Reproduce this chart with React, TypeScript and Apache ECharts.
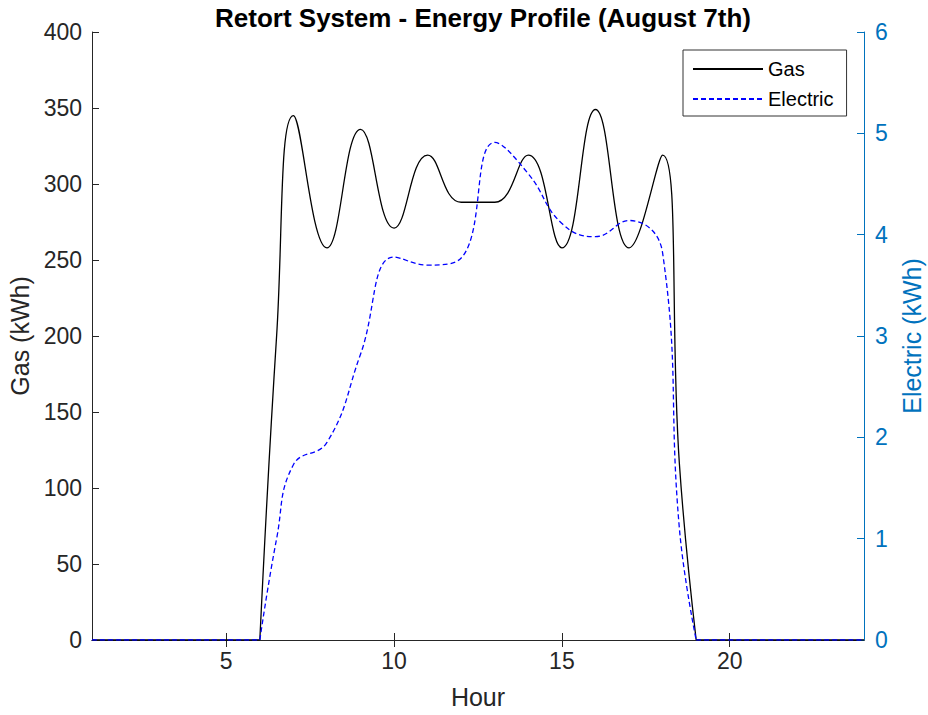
import React, { useEffect, useRef } from "react";
import * as echarts from "echarts";

const hours = [1, 2, 3, 4, 5, 6, 6.5, 7, 8, 9, 10, 11, 12, 13, 14, 15, 16, 17, 18, 18.5, 19, 20, 21, 22, 23, 24];
const gas = [0, 0, 0, 0, 0, 0, 200, 345, 258, 336, 271, 319, 288, 288, 319, 258, 349, 258, 319, 116, 0, 0, 0, 0, 0, 0];
const electric = [0, 0, 0, 0, 0, 0, 1.0, 1.73, 1.95, 2.82, 3.78, 3.7, 3.77, 4.91, 4.6, 4.11, 3.98, 4.14, 3.82, 1.1, 0, 0, 0, 0, 0, 0];
const xTicks = [5, 10, 15, 20];
const title = "Retort System - Energy Profile (August 7th)";

const FONT = "'Liberation Sans', Arial, Helvetica, sans-serif";
const DARK = "#262626";
const BLUE_AX = "#0072BD";

// Split the line where it leaves / returns to zero so each active stretch is smoothed on its own
function buildData(xs: number[], ys: number[]) {
  const out: (number | null)[][] = [];
  for (let i = 0; i < xs.length; i++) {
    const v = ys[i];
    const startsRise = v === 0 && i + 1 < ys.length && ys[i + 1] !== 0;
    const endsDrop = v === 0 && i > 0 && ys[i - 1] !== 0;
    out.push([xs[i], v]);
    if (startsRise || endsDrop) {
      out.push([xs[i], null]);
      out.push([xs[i], v]);
    }
  }
  return out;
}

export default function App() {
  const ref = useRef<HTMLDivElement>(null);
  useEffect(() => {
    if (!ref.current) return;
    const chart = echarts.init(ref.current, null, { renderer: "svg" });
    chart.setOption({
      animation: false,
      backgroundColor: "#ffffff",
      textStyle: { fontFamily: FONT },
      title: {
        text: title,
        left: 478,
        textAlign: "center",
        top: 0,
        textStyle: { fontFamily: FONT, fontSize: 26, fontWeight: "bold", color: "#000" },
      },
      grid: { left: 92, right: 64, top: 32, bottom: 75, containLabel: false, outerBoundsMode: "none" },
      legend: {
        orient: "vertical",
        left: 683,
        top: 50,
        padding: [8, 13, 6, 9],
        itemGap: 8,
        itemWidth: 70,
        itemHeight: 14,
        borderColor: "#333333",
        borderWidth: 1,
        backgroundColor: "#fff",
        itemStyle: { opacity: 0 },
        textStyle: { fontFamily: FONT, fontSize: 20, color: "#000", lineHeight: 22 },
        data: ["Gas", "Electric"],
      },
      xAxis: [
        {
          type: "value",
          min: 1,
          max: 24,
          position: "bottom",
          name: "Hour",
          nameLocation: "middle",
          nameGap: 44,
          nameTextStyle: { fontFamily: FONT, fontSize: 25, color: DARK },
          axisLine: { show: true, lineStyle: { color: DARK, width: 1 } },
          axisTick: { show: true, inside: true, length: 7, customValues: xTicks, lineStyle: { color: DARK } },
          axisLabel: { show: true, customValues: xTicks, margin: 9, fontSize: 23, color: DARK, fontFamily: FONT },
          splitLine: { show: false },
        },
        {
          type: "value",
          min: 1,
          max: 24,
          position: "top",
          axisLine: { show: true, lineStyle: { color: DARK, width: 1 } },
          axisTick: { show: true, inside: true, length: 7, customValues: xTicks, lineStyle: { color: DARK } },
          axisLabel: { show: false },
          splitLine: { show: false },
        },
      ],
      yAxis: [
        {
          type: "value",
          min: 0,
          max: 400,
          interval: 50,
          position: "left",
          name: "Gas (kWh)",
          nameLocation: "middle",
          nameGap: 49,
          nameTextStyle: { fontFamily: FONT, fontSize: 25, color: DARK },
          axisLine: { show: true, lineStyle: { color: DARK, width: 1 } },
          axisTick: { show: true, inside: true, length: 7, lineStyle: { color: DARK } },
          axisLabel: { margin: 10, fontSize: 23, color: DARK, fontFamily: FONT },
          splitLine: { show: false },
        },
        {
          type: "value",
          min: 0,
          max: 6,
          interval: 1,
          position: "right",
          name: "Electric (kWh)",
          nameLocation: "middle",
          nameGap: 35,
          nameRotate: 90,
          nameTextStyle: { fontFamily: FONT, fontSize: 25, color: BLUE_AX },
          axisLine: { show: true, lineStyle: { color: BLUE_AX, width: 1 } },
          axisTick: { show: true, inside: true, length: 7, lineStyle: { color: BLUE_AX } },
          axisLabel: { margin: 11, fontSize: 23, color: BLUE_AX, fontFamily: FONT },
          splitLine: { show: false },
        },
      ],
      series: [
        {
          name: "Gas",
          type: "line",
          xAxisIndex: 0,
          yAxisIndex: 0,
          data: buildData(hours, gas),
          smooth: 0.45,
          connectNulls: false,
          showSymbol: false,
          symbol: "none",
          color: "#000000",
          lineStyle: { color: "#000000", width: 1.3 },
          z: 3,
        },
        {
          name: "Electric",
          type: "line",
          xAxisIndex: 0,
          yAxisIndex: 1,
          data: buildData(hours, electric),
          smooth: 0.45,
          connectNulls: false,
          showSymbol: false,
          symbol: "none",
          color: "#0000FF",
          lineStyle: { color: "#0000FF", width: 1.3, type: [5, 3] },
          z: 4,
        },
      ],
    });
    return () => chart.dispose();
  }, []);
  return <div ref={ref} style={{ position: "fixed", left: 0, top: 0, width: 928, height: 715 }} />;
}
